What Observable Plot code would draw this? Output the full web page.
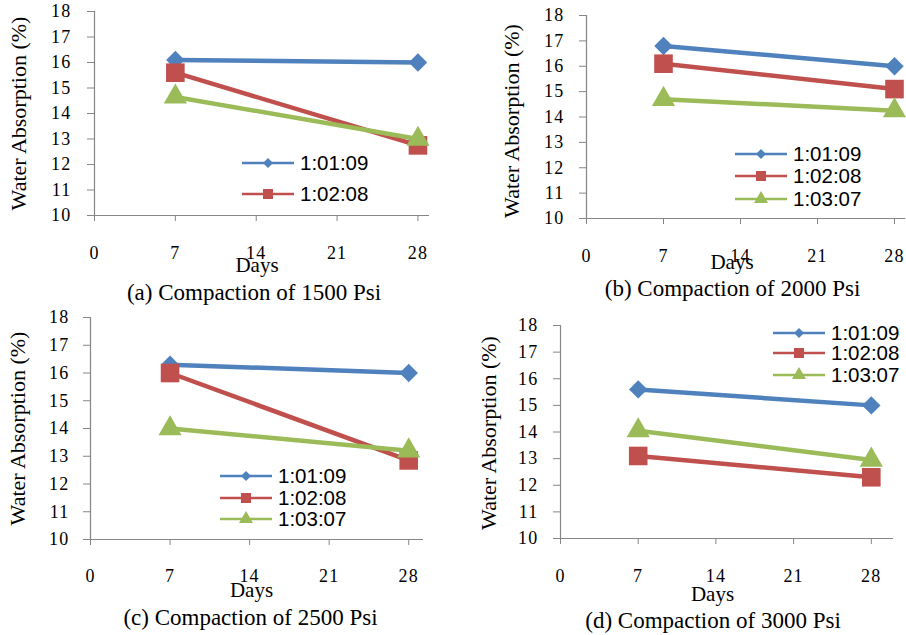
<!DOCTYPE html>
<html>
<head>
<meta charset="utf-8">
<script src="https://cdn.jsdelivr.net/npm/d3@7"></script>
<script src="https://cdn.jsdelivr.net/npm/@observablehq/plot@0.6"></script>
<style>
  html, body { margin: 0; padding: 0; background: #fff; }
  #root { position: relative; width: 906px; height: 635px; overflow: hidden; background: #fff; }
  .panel { position: absolute; }
  .panel svg { overflow: visible; }
  .panel g[aria-label$="tick label"] text { letter-spacing: 1.2px; }
  .legend-row { position: absolute; display: flex; align-items: center; height: 20px; font-family: "Liberation Sans", Arial, sans-serif; font-size: 20.5px; color: #000; white-space: nowrap; }
  .legend-row svg { display: block; margin-right: 6px; }
</style>
</head>
<body>
<div id="root"></div>
<script>
// ---------- data ----------
const days = [7, 28];
const seriesNames = ["1:01:09", "1:02:08", "1:03:07"];
const seriesColors = ["#4F81BD", "#C0504D", "#9BBB59"];
const seriesSymbols = ["diamond2", "square", "triangle"];
const xTicks = [0, 7, 14, 21, 28];
const yTicks = [10, 11, 12, 13, 14, 15, 16, 17, 18];
const xLabel = "Days";
const yLabel = "Water Absorption (%)";
const panelTitles = [
  "(a) Compaction of 1500 Psi",
  "(b) Compaction of 2000 Psi",
  "(c) Compaction of 2500 Psi",
  "(d) Compaction of 3000 Psi"
];
// values per series [day 7, day 28]
const panelA = [[16.1, 16.0], [15.6, 12.75], [14.65, 13.0]];
const panelB = [[16.8, 16.0], [16.1, 15.1], [14.7, 14.25]];
const panelC = [[16.3, 16.0], [16.0, 12.85], [14.0, 13.2]];
const panelD = [[15.6, 15.0], [13.1, 12.3], [14.05, 12.95]];
const legendA = ["1:01:09", "1:02:08"];
const legendB = ["1:01:09", "1:02:08", "1:03:07"];
const legendC = ["1:01:09", "1:02:08", "1:03:07"];
const legendD = ["1:01:09", "1:02:08", "1:03:07"];

// ---------- layout ----------
const layouts = [
  {left: 0, top: 0, width: 450, height: 310, ml: 94, mr: 21, mt: 11, mb: 95, xmax: 29,
   tickX: 24.5, tickY: 16, daysDx: -5, daysDy: 50, titleDx: -8, titleDy: 77, yDx: -76, yDy: 0,
   legX: 242, legY: [163, 194]},
  {left: 450, top: 0, width: 456, height: 310, ml: 136, mr: 1, mt: 15, mb: 92, xmax: 29,
   tickX: 24.5, tickY: 15, daysDx: -14, daysDy: 44, titleDx: -13.5, titleDy: 70, yDx: -75, yDy: 4,
   legX: 735, legY: [154, 176, 199]},
  {left: 0, top: 310, width: 450, height: 325, ml: 90, mr: 27, mt: 7, mb: 96, xmax: 29.3,
   tickX: 23.5, tickY: 14, daysDx: -5.5, daysDy: 51, titleDx: -6.5, titleDy: 78, yDx: -73, yDy: 0,
   legX: 220, legY: [476, 498, 519]},
  {left: 450, top: 310, width: 456, height: 325, ml: 110, mr: 13, mt: 15, mb: 97, xmax: 30,
   tickX: 24.5, tickY: 15, daysDx: -14.5, daysDy: 56, titleDx: -14, titleDy: 82, yDx: -72, yDy: 1,
   legX: 773, legY: [333, 353, 375]}
];
const panelValues = [panelA, panelB, panelC, panelD];
const panelLegends = [legendA, legendB, legendC, legendD];
const axisGray = "#868686";
const serif = "'Liberation Serif', 'Times New Roman', serif";

const root = document.getElementById("root");

panelValues.forEach((vals, p) => {
  const L = layouts[p];
  const marks = [
    Plot.ruleX([0], {stroke: axisGray, strokeWidth: 1.2}),
    Plot.ruleY([10], {stroke: axisGray, strokeWidth: 1.2}),
    Plot.axisX(xTicks, {anchor: "bottom", tickSize: 6, tickPadding: L.tickX, stroke: axisGray, fill: "#000", fontSize: 18, label: null}),
    Plot.axisY(yTicks, {anchor: "left", tickSize: 7, tickPadding: L.tickY, stroke: axisGray, fill: "#000", fontSize: 18, label: null}),
    Plot.text([xLabel], {text: d => d, frameAnchor: "bottom", textAnchor: "middle", lineAnchor: "middle", dx: L.daysDx, dy: L.daysDy, fontSize: 21, fontFamily: serif, fill: "#000", style: "letter-spacing:0.8px"}),
    Plot.text([panelTitles[p]], {text: d => d, frameAnchor: "bottom", textAnchor: "middle", lineAnchor: "middle", dx: L.titleDx, dy: L.titleDy, fontSize: 23, fontFamily: serif, fill: "#000"}),
    Plot.text([yLabel], {text: d => d, frameAnchor: "left", textAnchor: "middle", lineAnchor: "middle", rotate: -90, dx: L.yDx, dy: L.yDy, fontSize: 22, fontFamily: serif, fill: "#000"})
  ];
  vals.forEach((vs, s) => {
    const rows = days.map((d, i) => ({day: d, value: vs[i]}));
    marks.push(Plot.line(rows, {x: "day", y: "value", stroke: seriesColors[s], strokeWidth: 4.5}));
    const r = s === 0 ? 8.3 : s === 1 ? 10.5 : 8.6;
    marks.push(Plot.dot(rows, {x: "day", y: "value", symbol: seriesSymbols[s], fill: seriesColors[s], stroke: "none", r}));
  });
  const chart = Plot.plot({
    width: L.width, height: L.height,
    marginLeft: L.ml, marginRight: L.mr, marginTop: L.mt, marginBottom: L.mb,
    x: {domain: [0, L.xmax], axis: null},
    y: {domain: [10, 18], axis: null},
    style: {fontFamily: serif, fontSize: "18px", background: "transparent", color: "#000"},
    marks
  });
  const wrap = document.createElement("div");
  wrap.className = "panel";
  wrap.style.left = L.left + "px";
  wrap.style.top = L.top + "px";
  wrap.appendChild(chart);
  root.appendChild(wrap);

  // legend
  const symSizes = [64, 100, 85];
  const d3Syms = [d3.symbolDiamond2, d3.symbolSquare, d3.symbolTriangle];
  panelLegends[p].forEach((name, i) => {
    const s = seriesNames.indexOf(name);
    const row = document.createElement("div");
    row.className = "legend-row";
    row.style.left = L.legX + "px";
    row.style.top = (L.legY[i] - 10) + "px";
    const svg = d3.create("svg").attr("width", 52).attr("height", 20);
    svg.append("line").attr("x1", 0).attr("x2", 52).attr("y1", 10).attr("y2", 10)
      .attr("stroke", seriesColors[s]).attr("stroke-width", 2.5);
    svg.append("path").attr("transform", "translate(26,10)")
      .attr("d", d3.symbol(d3Syms[s], symSizes[s])()).attr("fill", seriesColors[s]);
    row.appendChild(svg.node());
    const span = document.createElement("span");
    span.textContent = name;
    row.appendChild(span);
    root.appendChild(row);
  });
});
</script>
</body>
</html>
